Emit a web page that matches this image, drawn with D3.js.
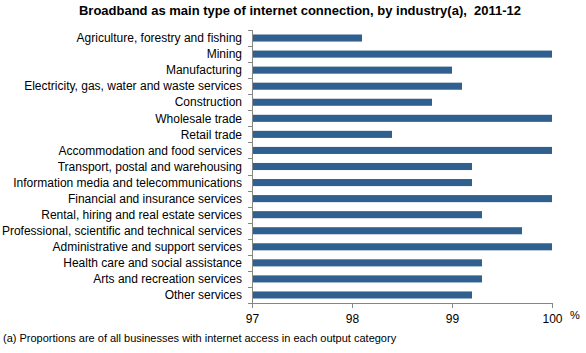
<!DOCTYPE html>
<html lang="en">
    <head>
        <meta charset="utf-8">
        <title>Broadband by industry</title>
        <script type="text/javascript" src="https://d3js.org/d3.v7.min.js"></script>
        <style type="text/css">
            body {
                margin: 0;
                background: white;
            }
            svg {
                display: block;
                font-family: "Liberation Sans", Arial, sans-serif;
            }
        </style>
    </head>
    <body>
        <script type="text/javascript">

        const industries = [
            "Agriculture, forestry and fishing",
            "Mining",
            "Manufacturing",
            "Electricity, gas, water and waste services",
            "Construction",
            "Wholesale trade",
            "Retail trade",
            "Accommodation and food services",
            "Transport, postal and warehousing",
            "Information media and telecommunications",
            "Financial and insurance services",
            "Rental, hiring and real estate services",
            "Professional, scientific and technical services",
            "Administrative and support services",
            "Health care and social assistance",
            "Arts and recreation services",
            "Other services"
        ];

        const broadband = [98.1, 100, 99.0, 99.1, 98.8, 100, 98.4, 100, 99.2, 99.2,
                           100, 99.3, 99.7, 100, 99.3, 99.3, 99.2];

        const xTicks = [97, 98, 99, 100];

        const width = 586;
        const height = 353;
        const plotLeft = 252, plotRight = 552, plotTop = 30, plotBottom = 303;

        const xScale = d3.scaleLinear()
                        .domain([97, 100])
                        .range([plotLeft, plotRight]);

        const yScale = d3.scaleBand()
                        .domain(industries)
                        .range([plotTop, plotBottom])
                        .paddingInner(0.56)
                        .paddingOuter(0.28);

        const svg = d3.select("body")
                    .append("svg")
                    .attr("width", width)
                    .attr("height", height);

        // title (keeps the double space before the year)
        svg.append("text")
            .attr("x", 300)
            .attr("y", 15)
            .attr("text-anchor", "middle")
            .style("font-size", "13px")
            .style("font-weight", "bold")
            .style("white-space", "pre")
            .text("Broadband as main type of internet connection, by industry(a),  2011-12");

        // bars
        svg.selectAll("rect.bar")
            .data(industries)
            .enter()
            .append("rect")
            .attr("class", "bar")
            .attr("x", xScale(97))
            .attr("y", d => yScale(d))
            .attr("width", (d, i) => xScale(broadband[i]) - xScale(97))
            .attr("height", yScale.bandwidth())
            .attr("fill", "#30608f");

        // x axis
        const bottomAxis = d3.axisBottom(xScale)
                            .tickValues(xTicks)
                            .tickSize(5)
                            .tickPadding(6)
                            .tickFormat(d3.format("d"));

        const gx = svg.append("g")
            .attr("transform", "translate(0," + plotBottom + ")")
            .call(bottomAxis);
        gx.select(".domain").attr("stroke", "#868686").attr("d", "M" + plotLeft + ",0.5H" + plotRight);
        gx.selectAll(".tick line").attr("stroke", "#868686");
        gx.selectAll(".tick text")
            .style("font-size", "12px")
            .style("font-family", "Liberation Sans, Arial, sans-serif")
            .attr("fill", "#000");

        svg.append("text")
            .attr("x", 570)
            .attr("y", 319)
            .style("font-size", "11px")
            .text("%");

        // y axis: line with ticks between categories
        const yBounds = d3.range(industries.length + 1)
                          .map(i => plotTop + i * (plotBottom - plotTop) / industries.length);

        svg.append("line")
            .attr("x1", plotLeft + 0.5).attr("x2", plotLeft + 0.5)
            .attr("y1", plotTop).attr("y2", plotBottom)
            .attr("stroke", "#868686");

        svg.selectAll("line.ytick")
            .data(yBounds)
            .enter()
            .append("line")
            .attr("class", "ytick")
            .attr("x1", plotLeft - 4).attr("x2", plotLeft)
            .attr("y1", d => Math.round(d) + 0.5)
            .attr("y2", d => Math.round(d) + 0.5)
            .attr("stroke", "#868686");

        // category labels
        svg.selectAll("text.cat")
            .data(industries)
            .enter()
            .append("text")
            .attr("class", "cat")
            .attr("x", plotLeft - 10)
            .attr("y", d => yScale(d) + yScale.bandwidth() / 2)
            .attr("dy", "0.35em")
            .attr("text-anchor", "end")
            .style("font-size", "12px")
            .text(d => d);

        // footnote
        svg.append("text")
            .attr("x", 3)
            .attr("y", 342)
            .style("font-size", "11px")
            .text("(a) Proportions are of all businesses with internet access in each output category");

        </script>
    </body>
</html>
